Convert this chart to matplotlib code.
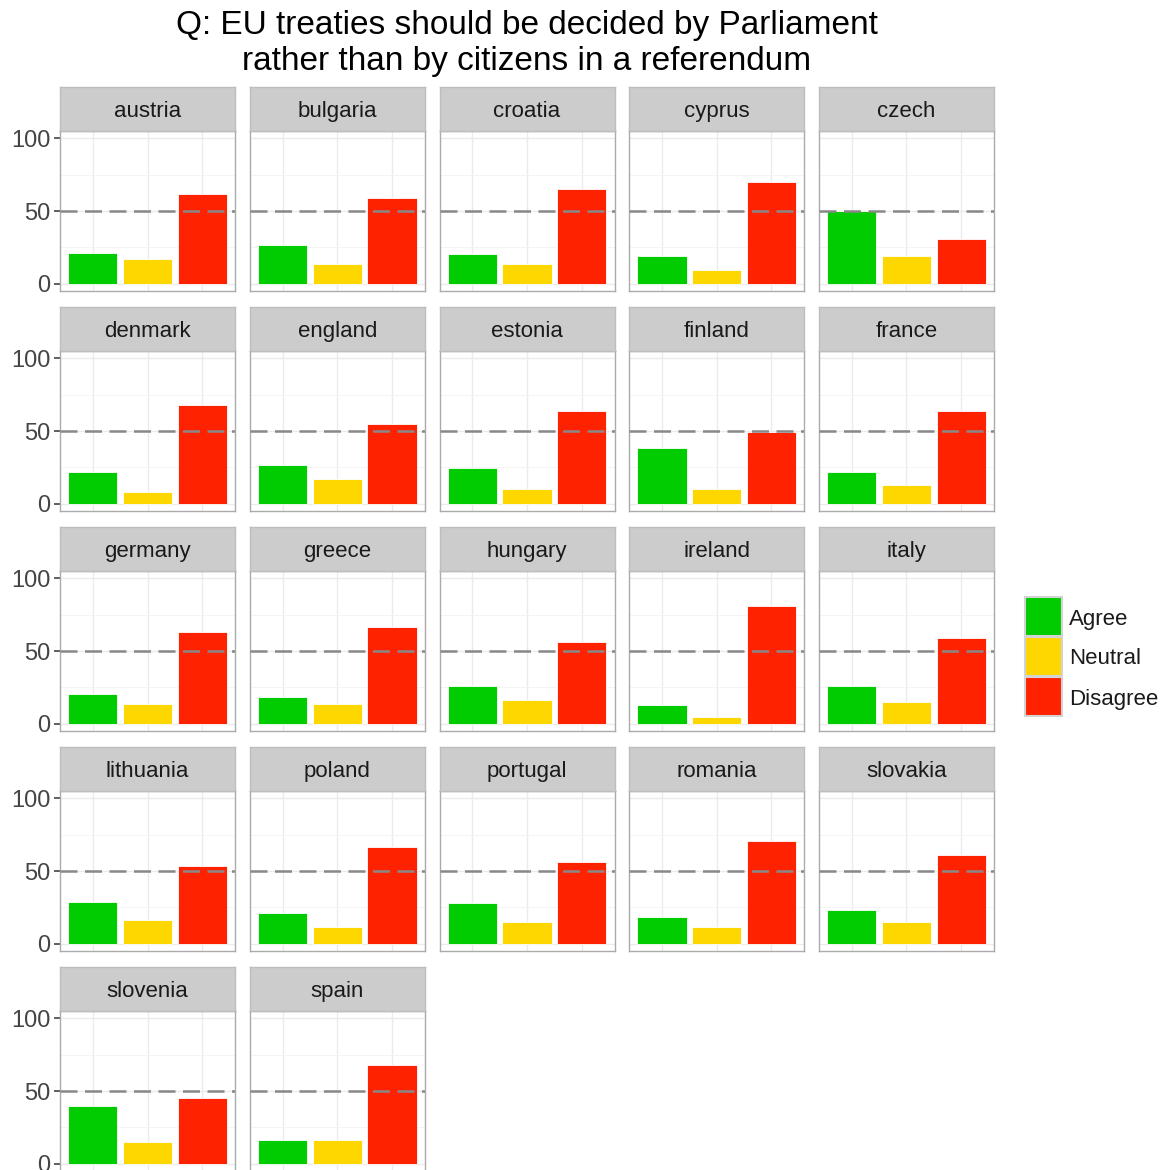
import matplotlib
matplotlib.use('Agg')
import matplotlib.pyplot as plt
from matplotlib.patches import Rectangle

countries = ['austria', 'bulgaria', 'croatia', 'cyprus', 'czech',
             'denmark', 'england', 'estonia', 'finland', 'france',
             'germany', 'greece', 'hungary', 'ireland', 'italy',
             'lithuania', 'poland', 'portugal', 'romania', 'slovakia',
             'slovenia', 'spain']
agree = [21.4, 26.4, 20.3, 19.2, 49.7,
         22.0, 26.8, 24.5, 38.5, 22.0,
         20.6, 18.6, 25.6, 12.7, 25.6,
         28.9, 20.8, 27.8, 18.5, 23.0,
         39.5, 16.0]
neutral = [16.7, 13.3, 13.3, 9.7, 19.2,
           7.9, 17.2, 10.2, 10.2, 12.7,
           13.8, 13.8, 16.1, 4.3, 15.0,
           16.0, 11.3, 14.9, 11.3, 14.9,
           14.7, 16.0]
disagree = [61.4, 59.1, 65.0, 69.8, 30.9,
            68.0, 55.1, 63.5, 49.2, 63.5,
            63.3, 66.7, 56.1, 80.8, 58.6,
            53.7, 66.6, 56.0, 70.4, 60.9,
            45.4, 67.7]
responses = ['Agree', 'Neutral', 'Disagree']
colors = ['#00CC00', '#FFD700', '#FF2200']
yticks = [0, 50, 100]
title = "Q: EU treaties should be decided by Parliament\nrather than by citizens in a referendum"

plt.rcParams['font.family'] = ['Liberation Sans', 'DejaVu Sans']
W, H = 1165, 1170
fig = plt.figure(figsize=(W / 100, H / 100), dpi=100)
fig.patch.set_facecolor('white')


def fr(x0, y0, w, h):
    return [x0 / W, 1 - (y0 + h) / H, w / W, h / H]


for i, c in enumerate(countries):
    r, col = divmod(i, 5)
    left = 60 + 189.75 * col
    top = 131 + 220 * r
    ax = fig.add_axes(fr(left, top, 175, 160))
    vals = [agree[i], neutral[i], disagree[i]]
    ax.bar(range(3), vals, width=0.9, color=colors, edgecolor='white',
           linewidth=0.6, zorder=2)
    ax.axhline(50, color='#888888', lw=1.8, dashes=(6.8, 3.0), zorder=3)
    ax.set_xlim(-0.6, 2.6)
    ax.set_ylim(-5, 105)
    ax.set_xticks(range(3))
    ax.set_yticks(yticks)
    ax.set_yticks([25, 75], minor=True)
    ax.grid(which='major', color='#EBEBEB', lw=1.0, zorder=0)
    ax.grid(which='minor', axis='y', color='#F3F3F3', lw=0.6, zorder=0)
    ax.set_axisbelow(True)
    ax.tick_params(axis='x', length=0, labelbottom=False)
    ax.tick_params(axis='y', which='minor', length=0)
    if col == 0:
        ax.tick_params(axis='y', which='major', length=4, width=1.1,
                       color='#333333', labelsize=17, labelcolor='#444444', pad=3)
    else:
        ax.tick_params(axis='y', which='major', length=0, labelleft=False)
    for s in ax.spines.values():
        s.set_color('#ABABAB')
        s.set_linewidth(1.0)
    sax = fig.add_axes(fr(left, top - 44, 175, 44))
    sax.set_facecolor('#CCCCCC')
    sax.set_xticks([])
    sax.set_yticks([])
    for s in sax.spines.values():
        s.set_color('#BDBDBD')
        s.set_linewidth(1.0)
    sax.text(0.5, 0.32, c, ha='center', va='baseline', fontsize=16,
             color='#1A1A1A', transform=sax.transAxes)

# legend
for k, (lab, colr) in enumerate(zip(responses, colors)):
    y0 = 597 + 40 * k
    x0, y, w, h = fr(1025, y0, 37, 39)
    fig.add_artist(Rectangle((x0, y), w, h, transform=fig.transFigure,
                             facecolor=colr, edgecolor='#D3D3D3', lw=1.5))
    fig.text(1069 / W, 1 - (y0 + 22) / H, lab, ha='left', va='center',
             fontsize=16, color='#1A1A1A')

fig.text(527 / W, 1 - 43.5 / H, title, ha='center', va='center', fontsize=24,
         color='black', linespacing=1.19)

fig.savefig('out.png', dpi=100)
